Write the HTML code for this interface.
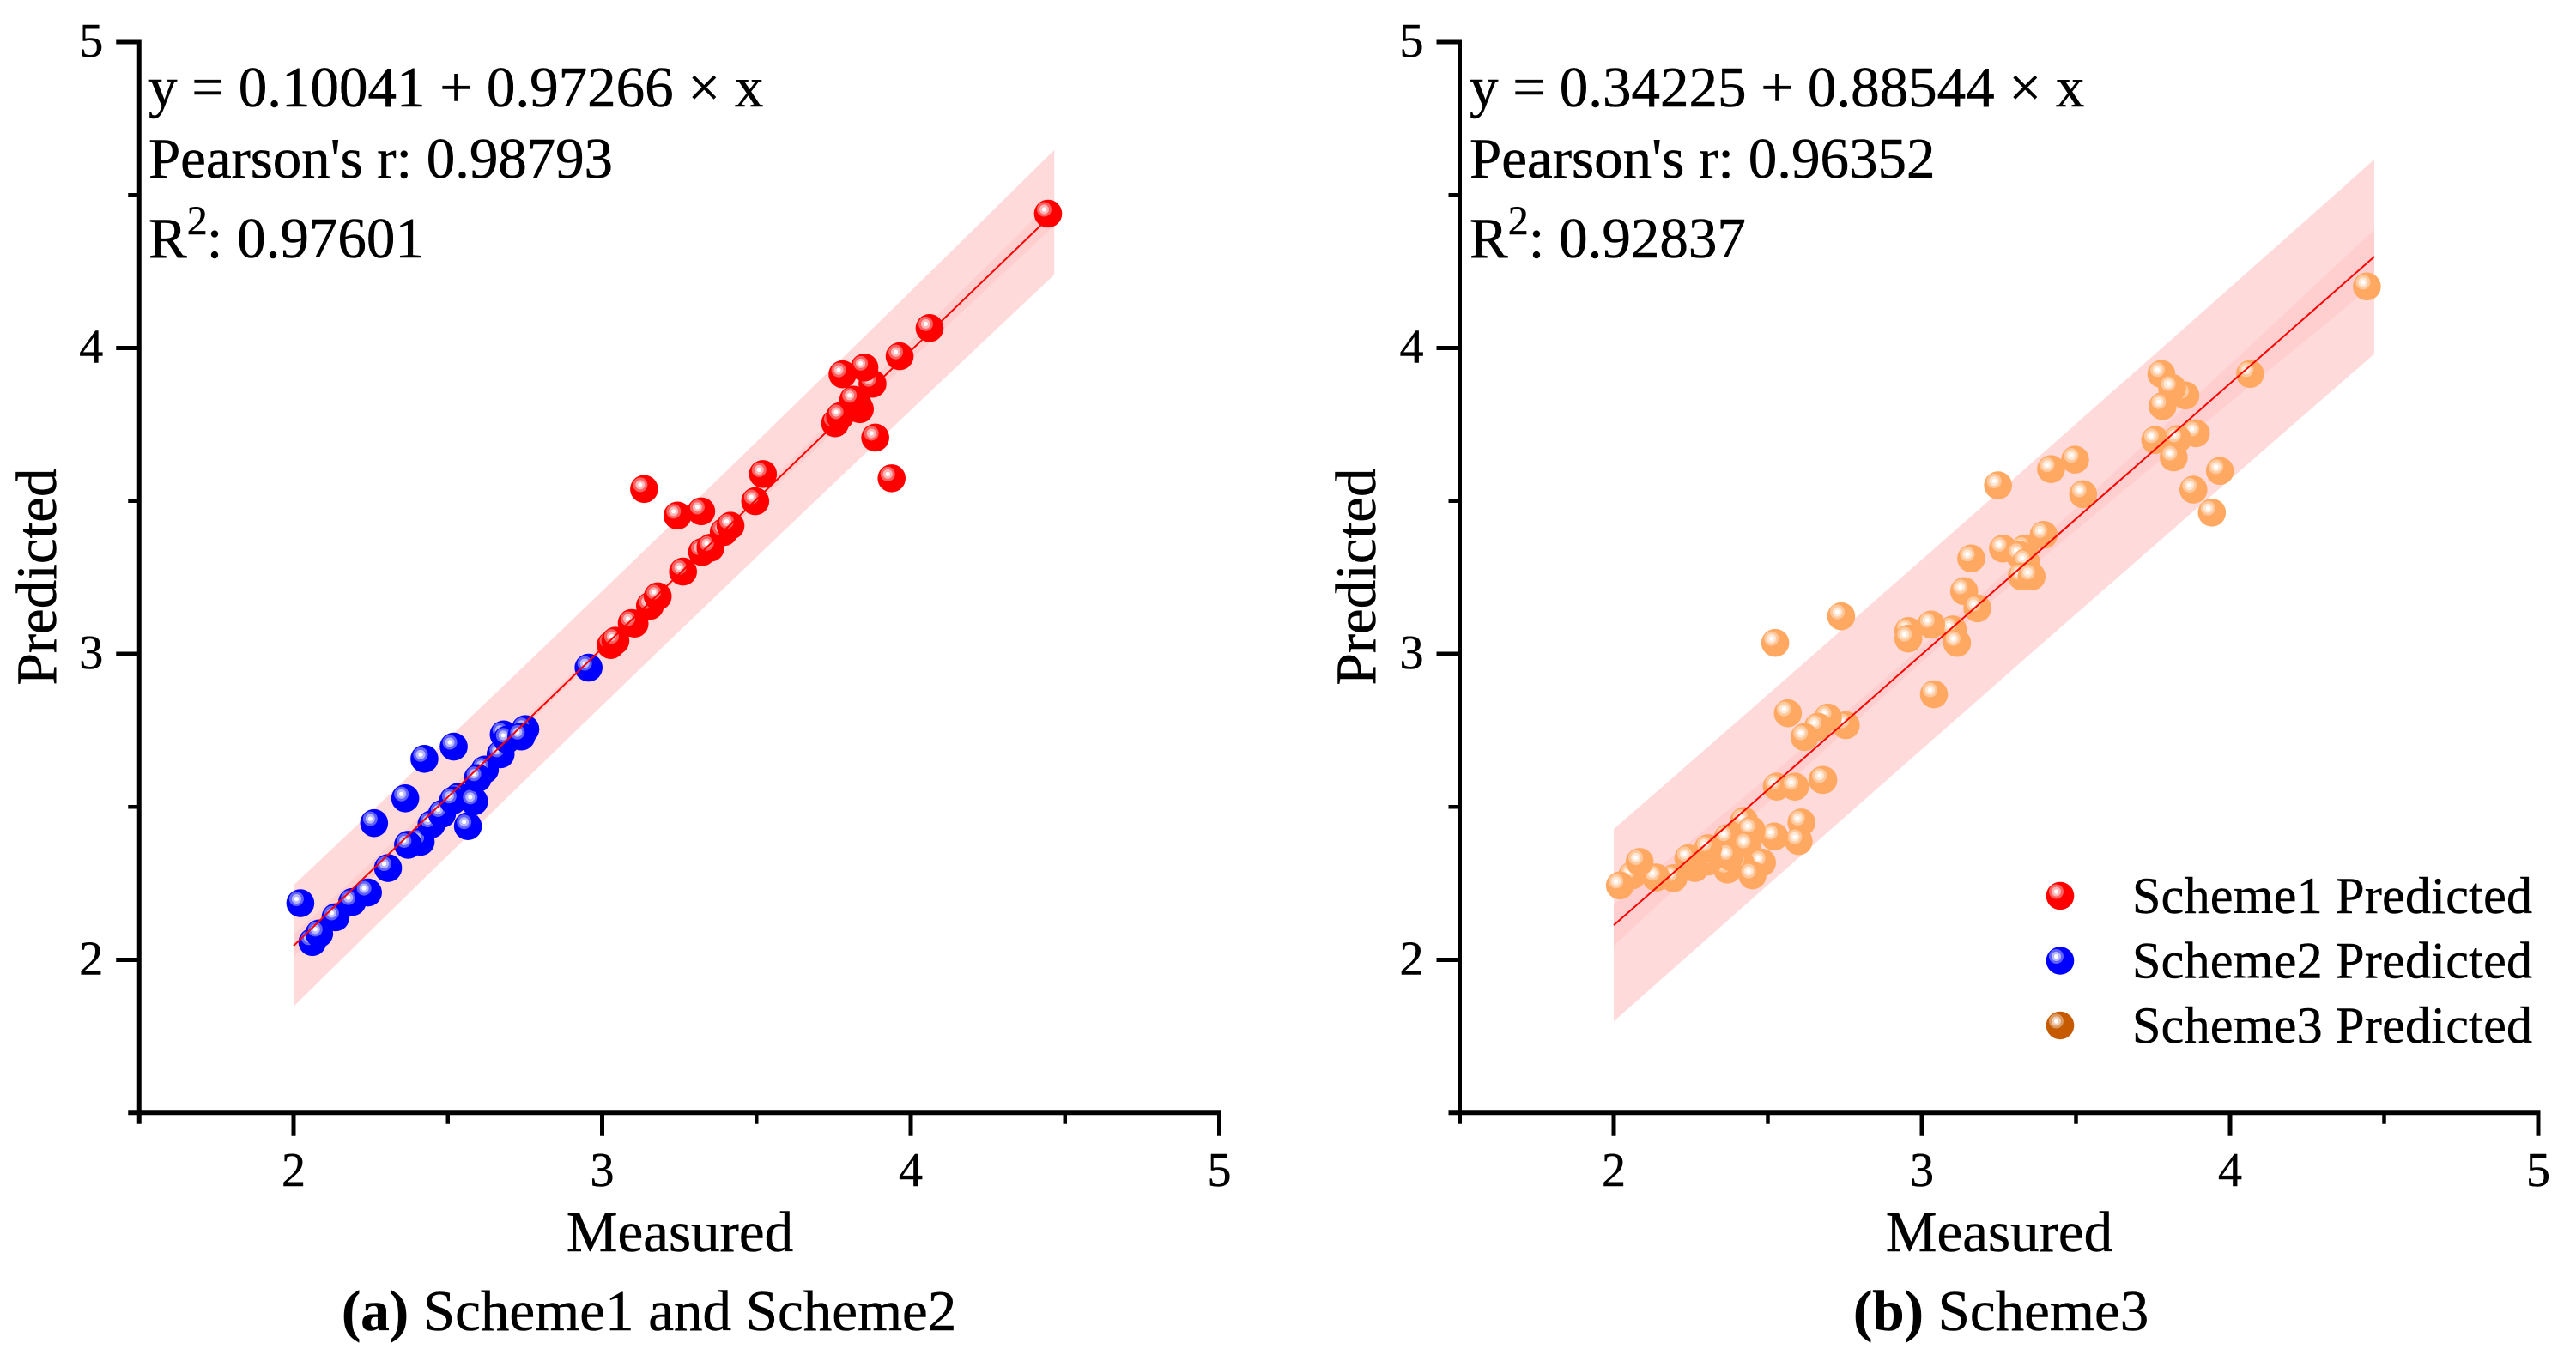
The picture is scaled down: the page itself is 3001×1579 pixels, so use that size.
<!DOCTYPE html>
<html lang="en">
<head>
<meta charset="utf-8">
<title>Measured vs Predicted</title>
<style>
html,body{margin:0;padding:0;background:#fff;}
svg{display:block;}
text{font-family:"Liberation Serif","Times New Roman",serif;fill:#000;stroke:#000;stroke-width:0.5px;}
</style>
</head>
<body>
<svg id="figure" xmlns="http://www.w3.org/2000/svg" width="3001" height="1579" viewBox="0 0 3001 1579">
  <rect width="3001" height="1579" fill="#fff"/>
  <g id="panel-a"></g>
  <g id="panel-b"></g>

  <g font-size="67">
    <text x="173" y="124">y = 0.10041 + 0.97266 × x</text>
    <text x="173" y="207" textLength="541" lengthAdjust="spacing">Pearson's r: 0.98793</text>
    <text x="173" y="300">R<tspan font-size="48" dy="-27">2</tspan><tspan dy="27" dx="-1">: 0.97601</tspan></text>
  </g>
  <g font-size="67">
    <text x="1712" y="124">y = 0.34225 + 0.88544 × x</text>
    <text x="1712" y="207">Pearson's r: 0.96352</text>
    <text x="1712" y="300">R<tspan font-size="48" dy="-27">2</tspan><tspan dy="27">: 0.92837</tspan></text>
  </g>

  <text font-size="67" text-anchor="middle" transform="translate(65 672) rotate(-90)">Predicted</text>
  <text font-size="67" text-anchor="middle" transform="translate(1602 672) rotate(-90)">Predicted</text>
  <text font-size="67" text-anchor="middle" x="792" y="1458">Measured</text>
  <text font-size="67" text-anchor="middle" x="2329" y="1458">Measured</text>
  <text font-size="67" x="398" y="1550"><tspan font-weight="bold">(a)</tspan> Scheme1 and Scheme2</text>
  <text font-size="67" x="2159" y="1550"><tspan font-weight="bold">(b)</tspan> Scheme3</text>

  <g id="legend" font-size="60"></g>
</svg>

<script>
const xTickValues = [2, 3, 4, 5];
const yTickValues = [2, 3, 4, 5];
const minorTickValues = [1.5, 2.5, 3.5, 4.5];

const scheme1X = [3.028,3.043,3.105,3.096,3.155,3.18,3.262,3.324,3.351,3.394,3.416,3.496,3.521,3.136,3.244,3.321,3.755,3.771,3.835,3.829,3.814,3.876,3.85,3.779,3.885,3.938,3.964,4.061,4.445];
const scheme1Y = [3.029,3.043,3.099,3.101,3.157,3.188,3.269,3.333,3.347,3.398,3.419,3.499,3.588,3.539,3.452,3.466,3.754,3.777,3.80,3.814,3.831,3.883,3.936,3.914,3.707,3.574,3.973,4.065,4.439];

const scheme2X = [2.022,2.061,2.083,2.136,2.19,2.241,2.306,2.261,2.362,2.424,2.519,2.412,2.371,2.447,2.481,2.535,2.517,2.585,2.565,2.62,2.597,2.671,2.681,2.692,2.751,2.738,2.956];
const scheme2Y = [2.185,2.058,2.086,2.139,2.189,2.22,2.30,2.447,2.528,2.657,2.697,2.386,2.376,2.443,2.477,2.533,2.521,2.518,2.437,2.622,2.594,2.672,2.737,2.72,2.754,2.73,2.955];

const scheme3X = [4.444,4.065,3.855,3.777,3.812,3.781,3.757,3.889,3.83,3.817,3.967,3.881,3.941,3.247,3.419,3.497,3.523,3.395,3.334,3.263,3.318,3.338,3.324,3.356,3.16,3.137,3.18,3.1,3.114,2.956,2.956,3.03,3.039,2.738,2.524,2.565,2.753,2.695,2.663,2.619,2.529,2.588,2.677,2.68,2.609,2.6,2.521,2.423,2.447,2.369,2.433,2.481,2.412,2.45,2.369,2.375,2.306,2.263,2.306,2.242,2.194,2.138,2.06,2.084,2.02];
const scheme3Y = [4.201,3.915,3.845,3.915,3.869,3.81,3.699,3.721,3.702,3.642,3.598,3.537,3.462,3.551,3.604,3.635,3.522,3.389,3.344,3.344,3.323,3.3,3.253,3.253,3.312,3.205,3.149,3.08,3.036,3.075,3.05,3.096,2.868,3.123,3.036,2.806,2.767,2.792,2.762,2.728,2.566,2.566,2.588,2.588,2.449,2.388,2.403,2.454,2.424,2.398,2.374,2.318,2.314,2.276,2.295,2.337,2.321,2.3,2.365,2.332,2.267,2.269,2.276,2.32,2.243];

const fitA = [0.10041, 0.97266];
const fitB = [0.34225, 0.88544];
const fitRangeA = [2, 4.465];
const fitRangeB = [2, 4.468];
const predictionCentreHalfWidth = [0.187, 0.31];
const predictionSpread = [0.06, 0.05];
const confidenceCentreHalfWidth = [0.012, 0.025];
const confidenceSpread = [0.031, 0.06];
const fitCentre = [3.1, 3.05];
const legendLabels = ["Scheme1 Predicted", "Scheme2 Predicted", "Scheme3 Predicted"];

const NS = "http://www.w3.org/2000/svg";
function make(tag, parent, props) {
  const el = document.createElementNS(NS, tag);
  for (const k in props) el.setAttribute(k, props[k]);
  parent.appendChild(el);
  return el;
}

function drawMarker(parent, cx, cy, color, name) {
  const g = make("g", parent, {});
  
  
  make("circle", g, {cx: cx, cy: cy, r: 16.3, fill: color});
  const hx = cx - 4.5, hy = cy - 5;
  make("circle", g, {cx: hx, cy: hy, r: 8.5, fill: "#fff", "fill-opacity": 0.38});
  make("circle", g, {cx: hx, cy: hy, r: 5.5, fill: "#fff", "fill-opacity": 0.55});
  make("circle", g, {cx: hx, cy: hy, r: 2.6, fill: "#fff"});
}

function hyperbola(centre, spread, v, mid) {
  return Math.sqrt(centre * centre + Math.pow(spread * (v - mid), 2));
}

function bandPoints(xOf, yOf, fit, range, halfFn) {
  const upper = [], lower = [];
  const steps = 40;
  for (let i = 0; i <= steps; i++) {
    const v = range[0] + (range[1] - range[0]) * i / steps;
    const f = fit[0] + fit[1] * v;
    const h = halfFn(v);
    upper.push(xOf(v).toFixed(1) + "," + yOf(f + h).toFixed(1));
    lower.unshift(xOf(v).toFixed(1) + "," + yOf(f - h).toFixed(1));
  }
  return upper.concat(lower).join(" ");
}

function drawPanel(root, cfg) {
  const xOf = v => cfg.x2 + (v - 2) * 359.5 * cfg.xk;
  const yOf = v => 49 + (5 - v) * 356.5;
  const i = cfg.index;

  const outer = make("polygon", root, {
    points: bandPoints(xOf, yOf, cfg.fit, cfg.range, v => hyperbola(predictionCentreHalfWidth[i], predictionSpread[i], v, fitCentre[i])),
    fill: "#ffdada"
  });
  
  

  const inner = make("polygon", root, {
    points: bandPoints(xOf, yOf, cfg.fit, cfg.range, v => hyperbola(confidenceCentreHalfWidth[i], confidenceSpread[i], v, fitCentre[i])),
    fill: "#ffcfcf"
  });
  
  

  cfg.series.forEach(s => {
    const g = make("g", root, {});
    
    
    s.xs.forEach((v, k) => drawMarker(g, xOf(v), yOf(s.ys[k]), s.color, s.point));
  });

  const fitLine = make("line", root, {
    x1: xOf(cfg.range[0]), y1: yOf(cfg.fit[0] + cfg.fit[1] * cfg.range[0]),
    x2: xOf(cfg.range[1]), y2: yOf(cfg.fit[0] + cfg.fit[1] * cfg.range[1]),
    stroke: "#ff0000", "stroke-width": 2
  });
  
  

  const axes = make("g", root, {stroke: "#000", "stroke-width": 5});
  
  
  const axisX = xOf(1.5), axisY = yOf(1.5);

  const yAxis = make("line", axes, {x1: axisX, x2: axisX, y1: yOf(5) - 2.5, y2: axisY + 13});
  
  
  const xAxis = make("line", axes, {x1: axisX - 13, x2: xOf(5) + 2.5, y1: axisY, y2: axisY});
  
  

  minorTickValues.forEach(v => {
    if (v > 1.5) {
      const t1 = make("line", axes, {x1: xOf(v), x2: xOf(v), y1: axisY, y2: axisY + 13, "stroke-width": 4.5});
      
      
      const t2 = make("line", axes, {x1: axisX - 13, x2: axisX, y1: yOf(v), y2: yOf(v), "stroke-width": 4.5});
      
      
    }
  });

  xTickValues.forEach(v => {
    const t = make("line", axes, {x1: xOf(v), x2: xOf(v), y1: axisY, y2: axisY + 27});
    
    
    const label = make("text", root, {x: xOf(v), y: 1382, "font-size": 56, "text-anchor": "middle"});
    
    
    label.textContent = String(v);
  });

  yTickValues.forEach(v => {
    const t = make("line", axes, {x1: axisX - 27, x2: axisX, y1: yOf(v), y2: yOf(v)});
    
    
    const label = make("text", root, {x: axisX - 42, y: yOf(v) + 17, "font-size": 56, "text-anchor": "end"});
    
    
    label.textContent = String(v);
  });
}

drawPanel(document.getElementById("panel-a"), {
  index: 0, x2: 342, xk: 1, fit: fitA, range: fitRangeA,
  series: [
    {name: "scheme2-points", point: "scheme2-point", xs: scheme2X, ys: scheme2Y, color: "#0000ff"},
    {name: "scheme1-points", point: "scheme1-point", xs: scheme1X, ys: scheme1Y, color: "#ff0000"}
  ]
});
drawPanel(document.getElementById("panel-b"), {
  index: 1, x2: 1880, xk: 359 / 359.5, fit: fitB, range: fitRangeB,
  series: [
    {name: "scheme3-points", point: "scheme3-point", xs: scheme3X, ys: scheme3Y, color: "#ffa862"}
  ]
});

const legendRoot = document.getElementById("legend");
const legendColors = ["#ff0000", "#0000ff", "#c55a00"];
legendLabels.forEach((text, k) => {
  const rowY = 1044 + k * 75.5;
  const row = make("g", legendRoot, {});
  
  
  drawMarker(row, 2400, rowY, legendColors[k], 'legend-marker');
  const label = make("text", row, {x: 2484, y: rowY + 20, textLength: 466, lengthAdjust: "spacing"});
  
  
  label.textContent = text;
});
</script>
</body>
</html>
